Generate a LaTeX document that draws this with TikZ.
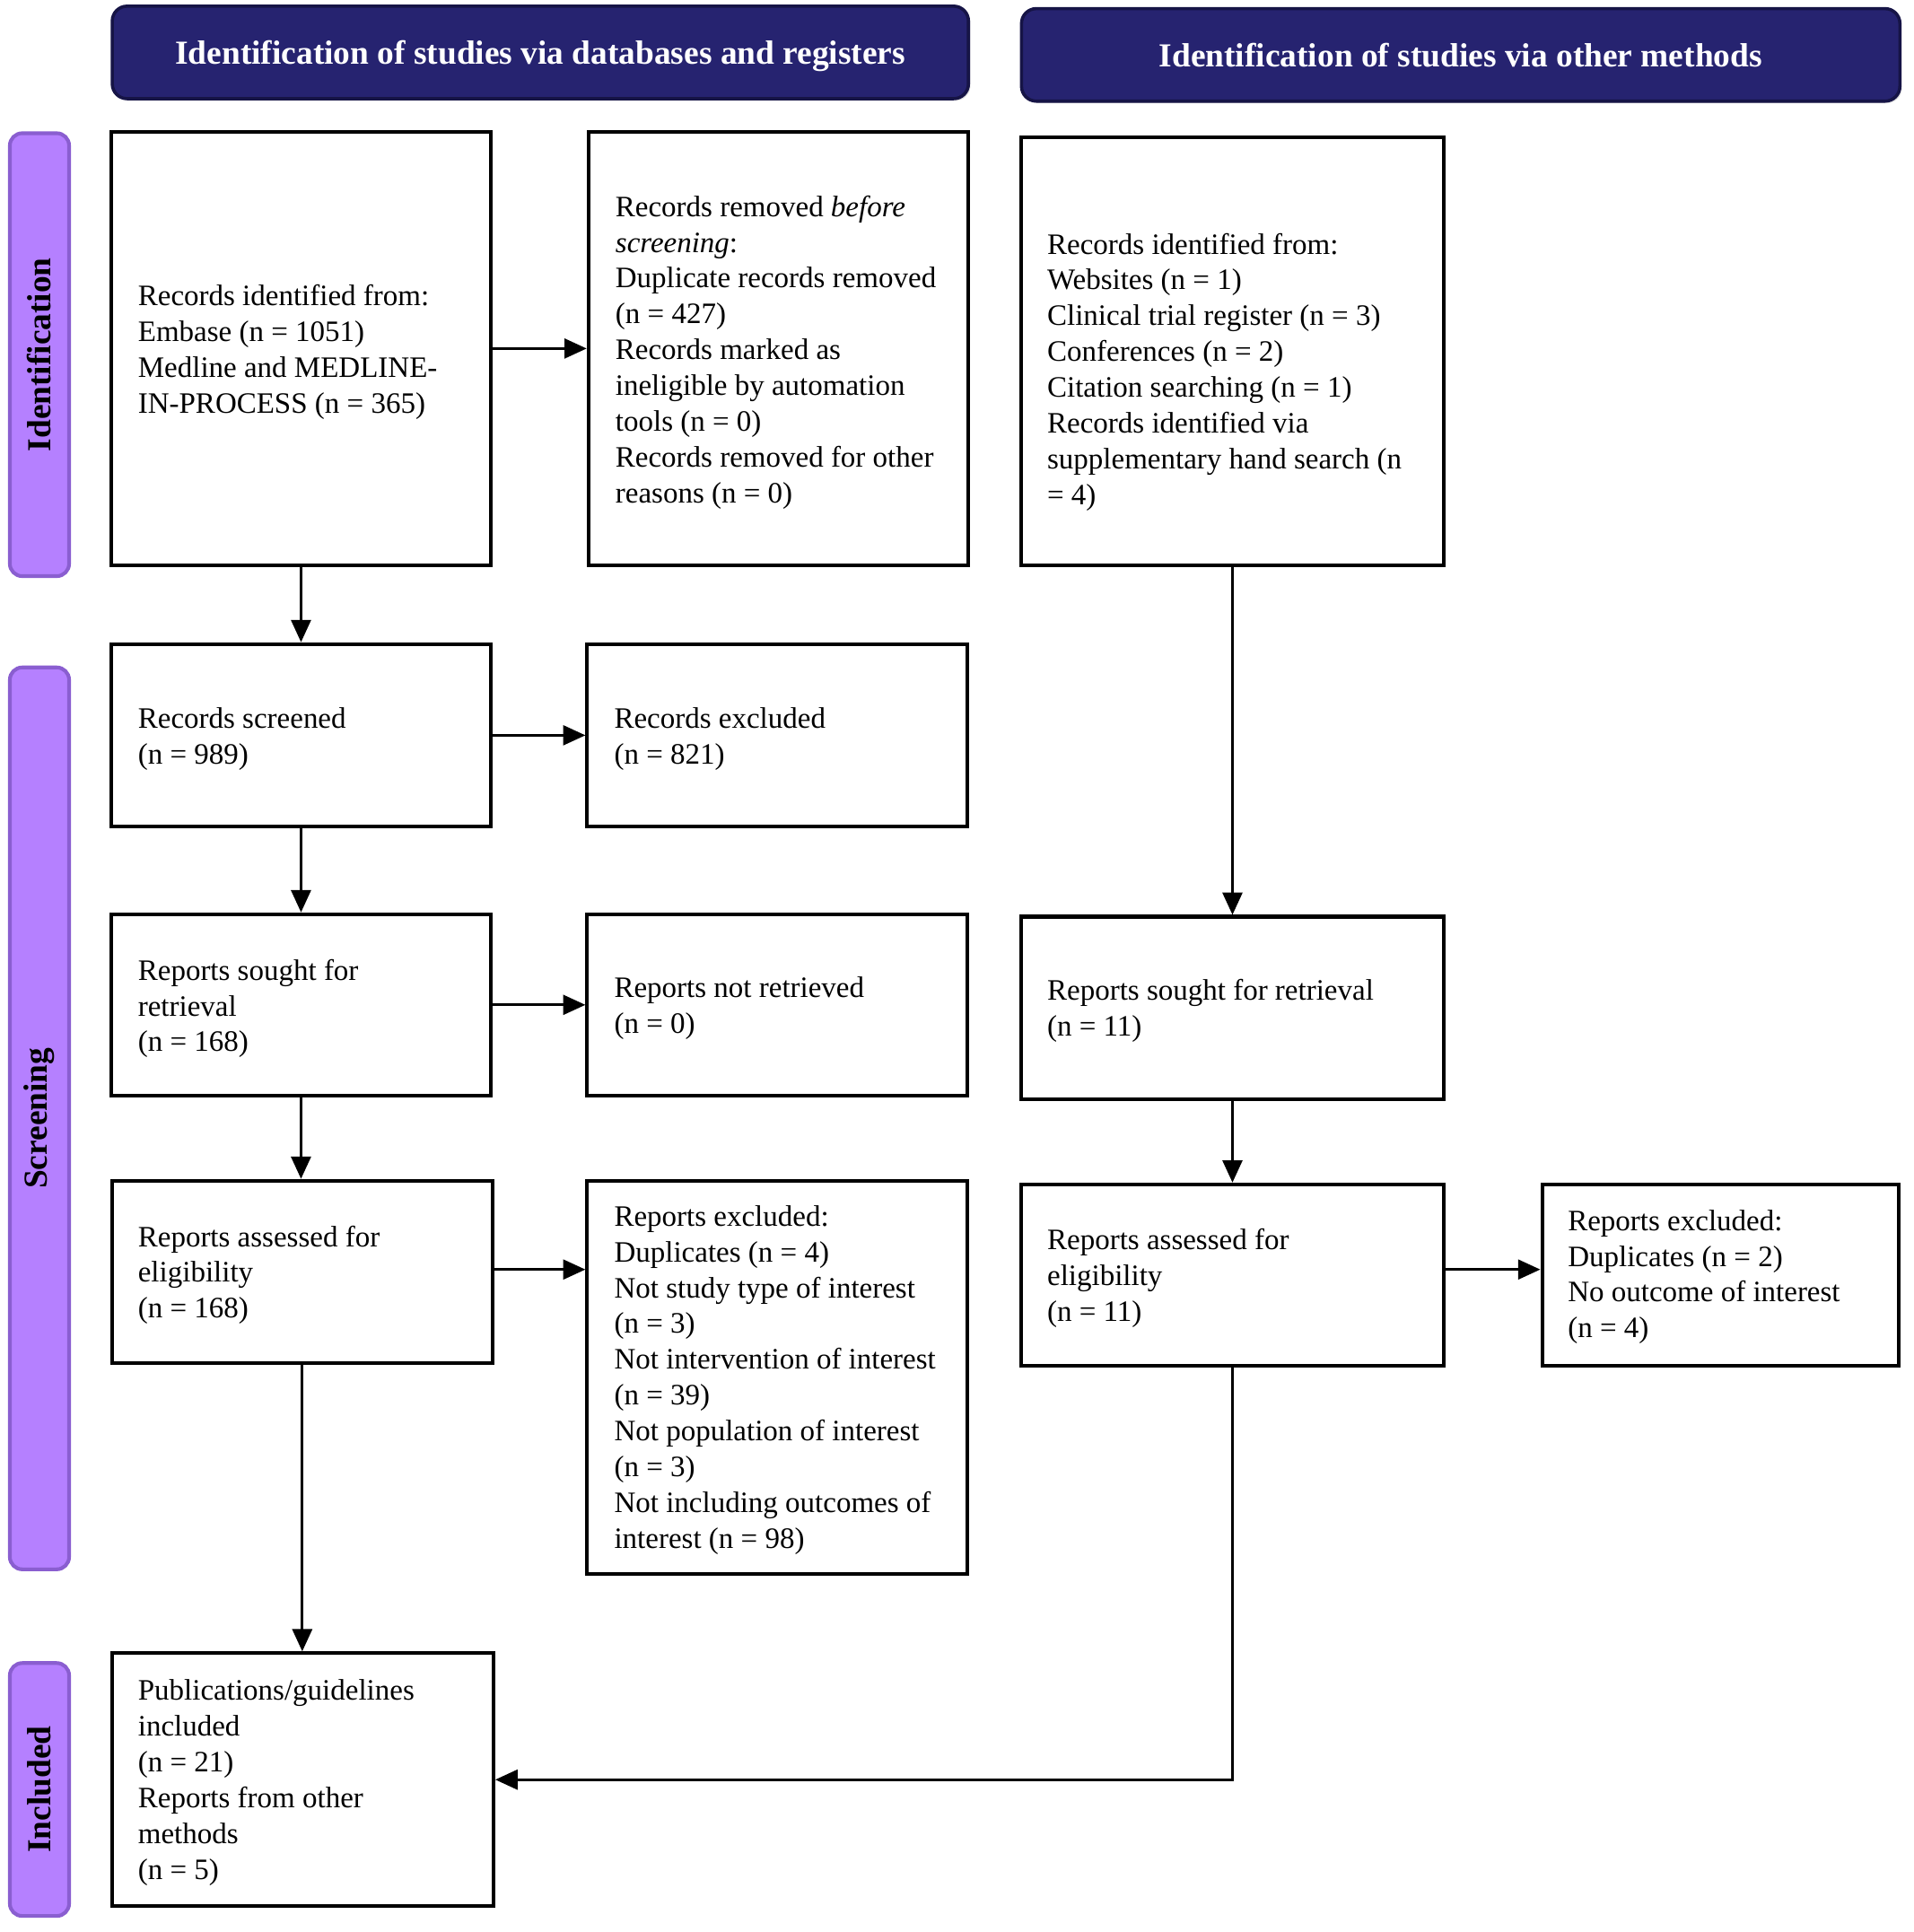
\documentclass[tikz,border=0pt]{standalone}
\usepackage{fontspec}
\setmainfont{Liberation Serif}
\usetikzlibrary{arrows.meta,shadows}
\definecolor{hdrfill}{RGB}{38,35,112}
\definecolor{hdrdraw}{RGB}{22,20,70}
\definecolor{sidefill}{RGB}{181,128,255}
\definecolor{sidedraw}{RGB}{138,94,208}
\tikzset{
  box/.style={draw=black, line width=1.5pt, inner sep=0pt},
  txt/.style={anchor=west, align=left, inner sep=0pt, font=\fontsize{12}{14.5}\selectfont},
  hdr/.style={draw=hdrdraw, fill=hdrfill, line width=1.3pt, rounded corners=6pt, text=white,
    font=\fontsize{13.6}{16}\selectfont\bfseries, text depth=0pt,
    drop shadow={opacity=0.25, shadow xshift=0.8pt, shadow yshift=-0.8pt}},
  side/.style={draw=sidedraw, fill=sidefill, line width=1.5pt, rounded corners=5pt, rotate=90,
    font=\fontsize{13.6}{16}\selectfont\bfseries, minimum height=24pt},
  arr/.style={-{Triangle[length=9pt,width=8pt]}, line width=1pt},
  ln/.style={line width=1pt}
}
\begin{document}
\begin{tikzpicture}[x=0.5pt,y=-0.5pt]
\useasboundingbox (0,0) rectangle (1551,1566);
% headers
\node[hdr, minimum width=347pt, minimum height=37.5pt] (H1) at (438,42.5) {Identification of studies via databases and registers};
\node[hdr, minimum width=356pt, minimum height=37.5pt] (H2) at (1184,44.5) {Identification of studies via other methods};
% side labels
\node[side, minimum width=179.5pt] (S1) at (32,287.5) {Identification};
\node[side, minimum width=365.5pt] (S2) at (32,906.5) {Screening};
\node[side, minimum width=102.5pt] (S3) at (32,1450.5) {Included};
% boxes
\node[box, minimum width=154pt, minimum height=175.5pt] (A) at (244,282.5) {};
\node[box, minimum width=154pt, minimum height=175.5pt] (B) at (631,282.5) {};
\node[box, minimum width=171pt, minimum height=173.5pt] (C) at (999,284.5) {};
\node[box, minimum width=154pt, minimum height=74pt] (D) at (244,596) {};
\node[box, minimum width=154pt, minimum height=74pt] (E) at (630,596) {};
\node[box, minimum width=154pt, minimum height=73.5pt] (F) at (244,814.5) {};
\node[box, minimum width=154pt, minimum height=73.5pt] (G) at (630,814.5) {};
\node[box, minimum width=171pt, minimum height=74pt] (H) at (999,817) {};
\node[box, minimum width=154pt, minimum height=74pt] (I) at (245,1031) {};
\node[box, minimum width=154pt, minimum height=159.5pt] (J) at (630,1116.5) {};
\node[box, minimum width=171pt, minimum height=73.5pt] (K) at (999,1033.5) {};
\node[box, minimum width=144.5pt, minimum height=73.5pt] (L) at (1394.5,1033.5) {};
\node[box, minimum width=154.5pt, minimum height=102.5pt] (M) at (245.5,1442.5) {};
% texts
\node[txt] (At) at ([xshift=11.5pt,yshift=-1.5pt]A.west) {Records identified from:\\Embase (n = 1051)\\Medline and MEDLINE-\\IN-PROCESS (n = 365)};
\node[txt] (Bt) at ([xshift=11.5pt,yshift=-1.5pt]B.west) {Records removed \textit{before}\\\textit{screening}:\\Duplicate records removed\\(n = 427)\\Records marked as\\ineligible by automation\\tools (n = 0)\\Records removed for other\\reasons (n = 0)};
\node[txt] (Ct) at ([xshift=11pt,yshift=-8.5pt]C.west) {Records identified from:\\Websites (n = 1)\\Clinical trial register (n = 3)\\Conferences (n = 2)\\Citation searching (n = 1)\\Records identified via\\supplementary hand search (n\\= 4)};
\node[txt] (Dt) at ([xshift=11.5pt,yshift=-1.5pt]D.west) {Records screened\\(n = 989)};
\node[txt] (Et) at ([xshift=11.5pt,yshift=-1.5pt]E.west) {Records excluded\\(n = 821)};
\node[txt] (Ft) at ([xshift=11.5pt,yshift=-1.5pt]F.west) {Reports sought for\\retrieval\\(n = 168)};
\node[txt] (Gt) at ([xshift=11.5pt,yshift=-1.5pt]G.west) {Reports not retrieved\\(n = 0)};
\node[txt] (Ht) at ([xshift=11pt,yshift=-1.2pt]H.west) {Reports sought for retrieval\\(n = 11)};
\node[txt] (It) at ([xshift=11pt,yshift=-1.2pt]I.west) {Reports assessed for\\eligibility\\(n = 168)};
\node[txt] (Jt) at ([xshift=11.5pt,yshift=-1pt]J.west) {Reports excluded:\\Duplicates (n = 4)\\Not study type of interest\\(n = 3)\\Not intervention of interest\\(n = 39)\\Not population of interest\\(n = 3)\\Not including outcomes of\\interest (n = 98)};
\node[txt] (Kt) at ([xshift=11pt,yshift=-1.2pt]K.west) {Reports assessed for\\eligibility\\(n = 11)};
\node[txt] (Lt) at ([xshift=11pt,yshift=-0.8pt]L.west) {Reports excluded:\\Duplicates (n = 2)\\No outcome of interest\\(n = 4)};
\node[txt] (Mt) at ([xshift=11pt,yshift=-1.2pt]M.west) {Publications/guidelines\\included\\(n = 21)\\Reports from other\\methods\\(n = 5)};
% connectors
\draw[arr] (A) -- (B);
\draw[arr] (A) -- (D);
\draw[arr] (D) -- (E);
\draw[arr] (D) -- (F);
\draw[arr] (F) -- (G);
\draw[arr] (F.south) -- (F.south |- I.north);
\draw[arr] ([yshift=1pt]I.east) -- ([yshift=1pt]I.east -| J.west);
\draw[arr] (I.south) -- (I.south |- M.north);
\draw[arr] (C) -- (H);
\draw[arr] (H) -- (K);
\draw[arr] ([yshift=2.25pt]K.east) -- ([yshift=2.25pt]K.east -| L.west);
\draw[arr] (K.south) |- (M.east);
\end{tikzpicture}
\end{document}
